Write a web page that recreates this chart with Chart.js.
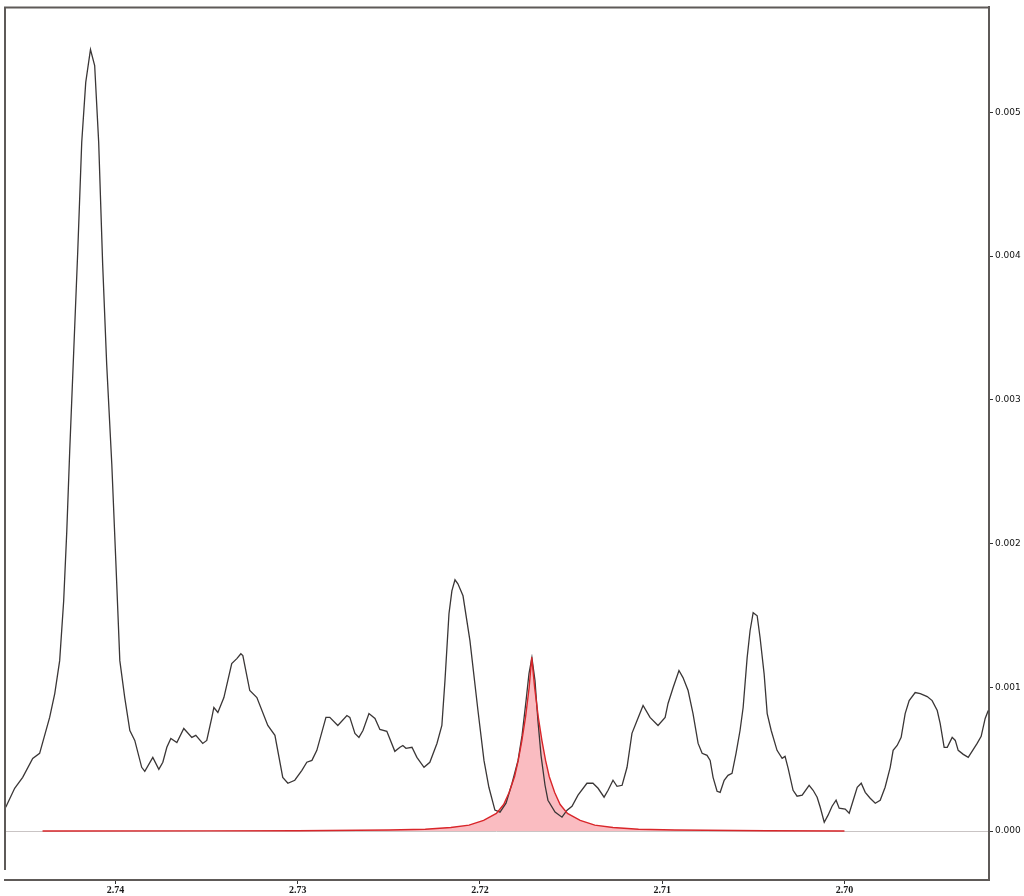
<!DOCTYPE html>
<html>
<head>
<meta charset="utf-8">
<script src="https://cdn.jsdelivr.net/npm/chart.js@4.4.1/dist/chart.umd.min.js"></script>
<style>
  html, body { margin: 0; padding: 0; background: #fff; }
  #wrap { width: 1024px; height: 896px; }
</style>
</head>
<body>
<div id="wrap"><canvas id="spectrum" width="1024" height="896"></canvas></div>
<script>
// chemical shift (ppm) and intensity of the measured spectrum
const shiftPpm = [
  2.74602, 2.74553, 2.74509, 2.74454, 2.74416, 2.74361, 2.74333, 2.74306,
  2.74284, 2.74267, 2.74251, 2.74229, 2.74207, 2.74185, 2.74163, 2.74137,
  2.74114, 2.74092, 2.74070, 2.74048, 2.74020, 2.73998, 2.73987, 2.73976,
  2.73949, 2.73921, 2.73894, 2.73856, 2.73839, 2.73795, 2.73762, 2.73740,
  2.73718, 2.73696, 2.73663, 2.73625, 2.73581, 2.73559, 2.73521, 2.73499,
  2.73471, 2.73460, 2.73438, 2.73405, 2.73362, 2.73334, 2.73312, 2.73301,
  2.73263, 2.73224, 2.73164, 2.73125, 2.73082, 2.73054, 2.73016, 2.72977,
  2.72950, 2.72922, 2.72895, 2.72845, 2.72824, 2.72780, 2.72730, 2.72714,
  2.72686, 2.72664, 2.72642, 2.72609, 2.72576, 2.72549, 2.72511, 2.72467,
  2.72439, 2.72423, 2.72406, 2.72373, 2.72346, 2.72307, 2.72275, 2.72236,
  2.72209, 2.72192, 2.72170, 2.72154, 2.72137, 2.72121, 2.72093, 2.72055,
  2.72011, 2.71978, 2.71951, 2.71918, 2.71890, 2.71857, 2.71824, 2.71791,
  2.71769, 2.71747, 2.71731, 2.71715, 2.71698, 2.71682, 2.71665, 2.71643,
  2.71627, 2.71588, 2.71550, 2.71522, 2.71495, 2.71462, 2.71413, 2.71380,
  2.71352, 2.71319, 2.71297, 2.71270, 2.71248, 2.71220, 2.71193, 2.71166,
  2.71138, 2.71105, 2.71067, 2.71023, 2.70984, 2.70968, 2.70940, 2.70908,
  2.70886, 2.70858, 2.70831, 2.70803, 2.70781, 2.70754, 2.70737, 2.70721,
  2.70699, 2.70682, 2.70660, 2.70639, 2.70617, 2.70595, 2.70573, 2.70556,
  2.70534, 2.70518, 2.70501, 2.70479, 2.70463, 2.70441, 2.70424, 2.70402,
  2.70370, 2.70342, 2.70326, 2.70309, 2.70282, 2.70260, 2.70232, 2.70194,
  2.70172, 2.70150, 2.70133, 2.70111, 2.70090, 2.70068, 2.70046, 2.70029,
  2.69996, 2.69974, 2.69952, 2.69930, 2.69908, 2.69886, 2.69859, 2.69831,
  2.69804, 2.69777, 2.69749, 2.69733, 2.69711, 2.69689, 2.69667, 2.69645,
  2.69612, 2.69584, 2.69546, 2.69519, 2.69491, 2.69475, 2.69453, 2.69436,
  2.69409, 2.69392, 2.69376, 2.69348, 2.69321, 2.69293, 2.69272, 2.69250,
  2.69228, 2.69211
];
const intensity = [
  0.000166, 0.000298, 0.000374, 0.000506, 0.000541, 0.000791, 0.000957, 0.001186,
  0.001602, 0.002087, 0.002642, 0.003336, 0.004029, 0.004792, 0.005208, 0.005437,
  0.005326, 0.004792, 0.003939, 0.003246, 0.002552, 0.001879, 0.001533, 0.001186,
  0.000929, 0.000700, 0.000631, 0.000444, 0.000416, 0.000513, 0.000430, 0.000479,
  0.000583, 0.000645, 0.000617, 0.000714, 0.000652, 0.000666, 0.000610, 0.000631,
  0.000791, 0.000860, 0.000825, 0.000929, 0.001165, 0.001200, 0.001234, 0.001221,
  0.000978, 0.000929, 0.000735, 0.000666, 0.000374, 0.000333, 0.000354, 0.000423,
  0.000479, 0.000492, 0.000562, 0.000791, 0.000791, 0.000735, 0.000804, 0.000791,
  0.000680, 0.000652, 0.000700, 0.000818, 0.000784, 0.000707, 0.000694, 0.000555,
  0.000583, 0.000596, 0.000576, 0.000583, 0.000513, 0.000444, 0.000479, 0.000610,
  0.000735, 0.001047, 0.001512, 0.001671, 0.001748, 0.001720, 0.001637, 0.001325,
  0.000839, 0.000492, 0.000305, 0.000146, 0.000132, 0.000194, 0.000333, 0.000492,
  0.000666, 0.000908, 0.001096, 0.001207, 0.001047, 0.000770, 0.000527, 0.000319,
  0.000215, 0.000132, 0.000097, 0.000146, 0.000173, 0.000250, 0.000333, 0.000333,
  0.000298, 0.000236, 0.000284, 0.000354, 0.000312, 0.000319, 0.000444, 0.000680,
  0.000770, 0.000874, 0.000791, 0.000735, 0.000791, 0.000888, 0.000999, 0.001117,
  0.001068, 0.000978, 0.000818, 0.000610, 0.000541, 0.000527, 0.000492, 0.000374,
  0.000277, 0.000270, 0.000354, 0.000388, 0.000402, 0.000541, 0.000700, 0.000860,
  0.001207, 0.001394, 0.001519, 0.001498, 0.001345, 0.001096, 0.000818, 0.000700,
  0.000562, 0.000506, 0.000520, 0.000437, 0.000284, 0.000243, 0.000250, 0.000319,
  0.000284, 0.000236, 0.000166, 0.000062, 0.000111, 0.000173, 0.000215, 0.000160,
  0.000153, 0.000125, 0.000215, 0.000305, 0.000333, 0.000270, 0.000229, 0.000194,
  0.000215, 0.000305, 0.000444, 0.000562, 0.000596, 0.000652, 0.000818, 0.000908,
  0.000964, 0.000957, 0.000936, 0.000908, 0.000839, 0.000749, 0.000583, 0.000583,
  0.000652, 0.000631, 0.000562, 0.000534, 0.000513, 0.000569, 0.000610, 0.000659,
  0.000784, 0.000839
];

// fitted component (red, filled)
const fitPpm = [
  2.7440, 2.7350, 2.7300, 2.7250, 2.7230, 2.7216, 2.7206, 2.7198, 2.7191,
  2.7187, 2.7184, 2.7181, 2.7179, 2.7177, 2.7175, 2.7173, 2.71716,
  2.7170, 2.7168, 2.7166, 2.7164, 2.7162, 2.7159, 2.7156, 2.7152,
  2.7145, 2.7137, 2.7127, 2.7113, 2.7093, 2.7043, 2.7000
];
const fitIntensity = [
  0.0000010, 0.0000018, 0.0000030, 0.0000075, 0.000013, 0.000025, 0.000042, 0.000075, 0.000123,
  0.000185, 0.000268, 0.000380, 0.000492, 0.000630, 0.000793, 0.001000, 0.001209,
  0.001000, 0.000793, 0.000630, 0.000492, 0.000380, 0.000268, 0.000185, 0.000123,
  0.000075, 0.000042, 0.000025, 0.000013, 0.0000075, 0.0000025, 0.0000012
];

// axis ticks
const xTicks = [2.74, 2.73, 2.72, 2.71, 2.70];
const yTicks = [0.000, 0.001, 0.002, 0.003, 0.004, 0.005];

const toPoints = (xs, ys) => xs.map((x, i) => ({ x, y: ys[i] }));

// top and left frame lines (the library draws only bottom/right axes)
const framePlugin = {
  id: 'frame',
  afterDraw(chart) {
    const { ctx, chartArea: a } = chart;
    ctx.save();
    ctx.strokeStyle = '#5e5a58';
    ctx.lineWidth = 2;
    ctx.beginPath();
    ctx.moveTo(a.left, a.bottom - 10);
    ctx.lineTo(a.left, a.top);
    ctx.lineTo(a.right, a.top);
    ctx.stroke();
    ctx.restore();
  }
};

new Chart(document.getElementById('spectrum').getContext('2d'), {
  type: 'line',
  data: {
    datasets: [
      {
        label: 'fit',
        data: toPoints(fitPpm, fitIntensity),
        borderColor: '#d9262a',
        borderWidth: 1.4,
        backgroundColor: 'rgba(248, 165, 172, 0.75)',
        fill: 'origin',
        pointRadius: 0,
        tension: 0
      },
      {
        label: 'spectrum',
        data: toPoints(shiftPpm, intensity),
        borderColor: '#3a3636',
        borderWidth: 1.3,
        fill: false,
        pointRadius: 0,
        tension: 0
      }
    ]
  },
  options: {
    responsive: false,
    animation: false,
    devicePixelRatio: 1,
    layout: { padding: { left: 5, top: 5, right: 0, bottom: 0 } },
    plugins: {
      legend: { display: false },
      tooltip: { enabled: false },
      filler: { drawTime: 'beforeDatasetsDraw' }
    },
    scales: {
      x: {
        type: 'linear',
        reverse: true,
        min: 2.69207,
        max: 2.74606,
        afterBuildTicks: axis => { axis.ticks = xTicks.map(v => ({ value: v })); },
        afterFit: axis => { axis.height = 16; },
        border: { display: true, color: '#5e5a58', width: 2 },
        grid: { drawOnChartArea: false, drawTicks: true, tickLength: 4, tickColor: '#333' },
        ticks: {
          color: '#1a1a1a',
          padding: 0,
          maxRotation: 0,
          font: { family: 'Liberation Serif', size: 10, weight: 'bold' },
          callback: v => v.toFixed(2)
        }
      },
      y: {
        position: 'right',
        min: -0.00034,
        max: 0.00573,
        afterBuildTicks: axis => { axis.ticks = yTicks.map(v => ({ value: v })); },
        afterFit: axis => { axis.width = 35; },
        border: { display: true, color: '#5e5a58', width: 2 },
        grid: {
          drawOnChartArea: true,
          drawTicks: true,
          tickLength: 4,
          tickColor: '#333',
          color: c => (c.tick && c.tick.value === 0 ? '#c9c4c4' : 'rgba(0,0,0,0)'),
          lineWidth: 1
        },
        ticks: {
          color: '#111',
          padding: 2,
          font: { family: 'DejaVu Sans', size: 9 },
          callback: v => v.toFixed(3)
        }
      }
    }
  },
  plugins: [framePlugin]
});
</script>
</body>
</html>
